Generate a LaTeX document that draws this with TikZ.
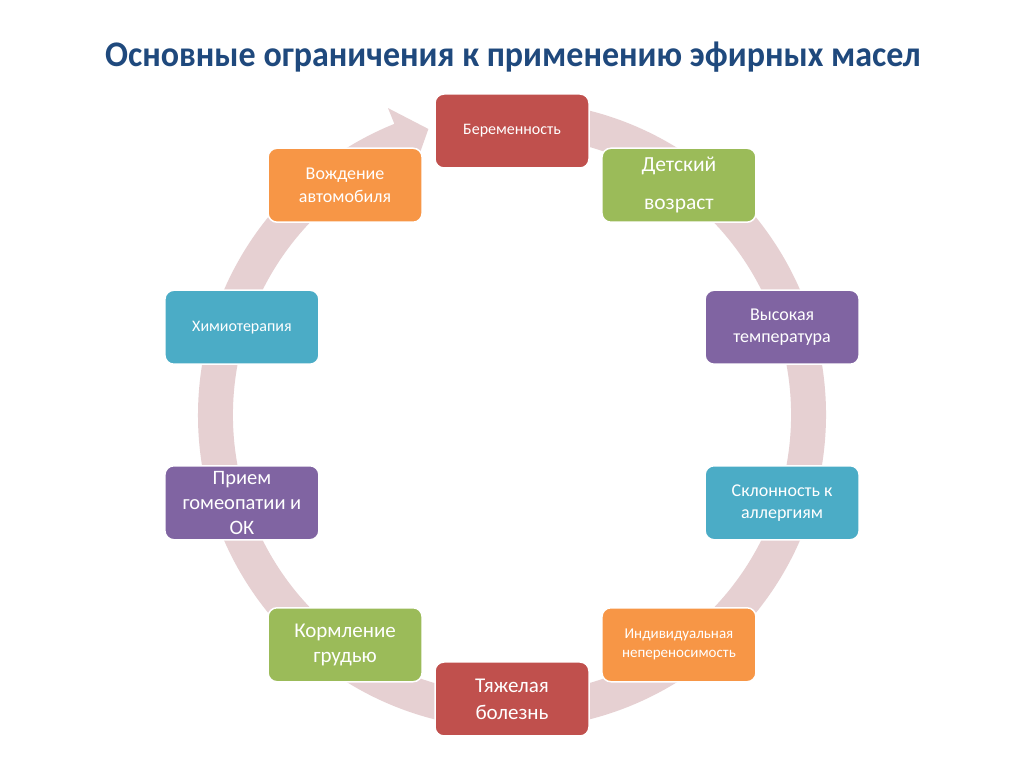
\documentclass[tikz,border=0pt]{standalone}
\usepackage{fontspec}
\setmainfont{Carlito}
\definecolor{redc}{HTML}{C0504D}
\definecolor{greenc}{HTML}{9BBB59}
\definecolor{purplec}{HTML}{8064A2}
\definecolor{tealc}{HTML}{4BACC6}
\definecolor{orangec}{HTML}{F79646}
\definecolor{ringc}{HTML}{E6D0D2}
\definecolor{titlec}{HTML}{1F497D}
\newcommand{\fs}[1]{\fontsize{#1}{1.22\dimexpr #1pt\relax}\selectfont}
\begin{document}
\begin{tikzpicture}[x=1pt,y=1pt,
  cbox/.style={rounded corners=9pt, minimum width=154pt, minimum height=74pt,
    draw=white, line width=1.5pt, text=white, align=center, inner sep=2pt}]
\useasboundingbox (0,0) rectangle (1024,767);
\fill[white] (0,0) rectangle (1024,767);
\node[font=\bfseries\fontsize{36}{40}\selectfont, text=titlec] (title) at (513,710) {\scalebox{0.945}[1]{Основные ограничения к применению эфирных масел}};
\begin{scope}[shift={(512,352)}]
\fill[ringc] (85:314) arc[start angle=85, end angle=-248, radius=314]
  -- (-248:331) -- (-253.7:298) -- (-248:263) -- (-248:279)
  arc[start angle=-248, end angle=85, radius=279] -- cycle;
\node[cbox, fill=redc, font=\fs{16}] (b1) at (90:284) {Беременность};
\node[cbox, fill=greenc, font=\fontsize{21.5}{38}\selectfont] (b2) at (54:284) {Детский\\возраст};
\node[cbox, fill=purplec, font=\fs{18}] (b3) at (18:284) {Высокая\\температура};
\node[cbox, fill=tealc, font=\fs{18}] (b4) at (-18:284) {Склонность к\\аллергиям};
\node[cbox, fill=orangec, font=\fontsize{15}{19}\selectfont] (b5) at (-54:284) {Индивидуальная\\непереносимость};
\node[cbox, fill=redc, font=\fontsize{21}{27}\selectfont] (b6) at (-90:284) {Тяжелая\\болезнь};
\node[cbox, fill=greenc, font=\fontsize{21}{25}\selectfont] (b7) at (-126:284) {Кормление\\грудью};
\node[cbox, fill=purplec, font=\fontsize{20.5}{25}\selectfont] (b8) at (-162:284) {Прием\\гомеопатии и\\ОК};
\node[cbox, fill=tealc, font=\fs{16}] (b9) at (162:284) {Химиотерапия};
\node[cbox, fill=orangec, font=\fontsize{18}{23}\selectfont] (b10) at (126:284) {Вождение\\автомобиля};
\end{scope}
\end{tikzpicture}
\end{document}
